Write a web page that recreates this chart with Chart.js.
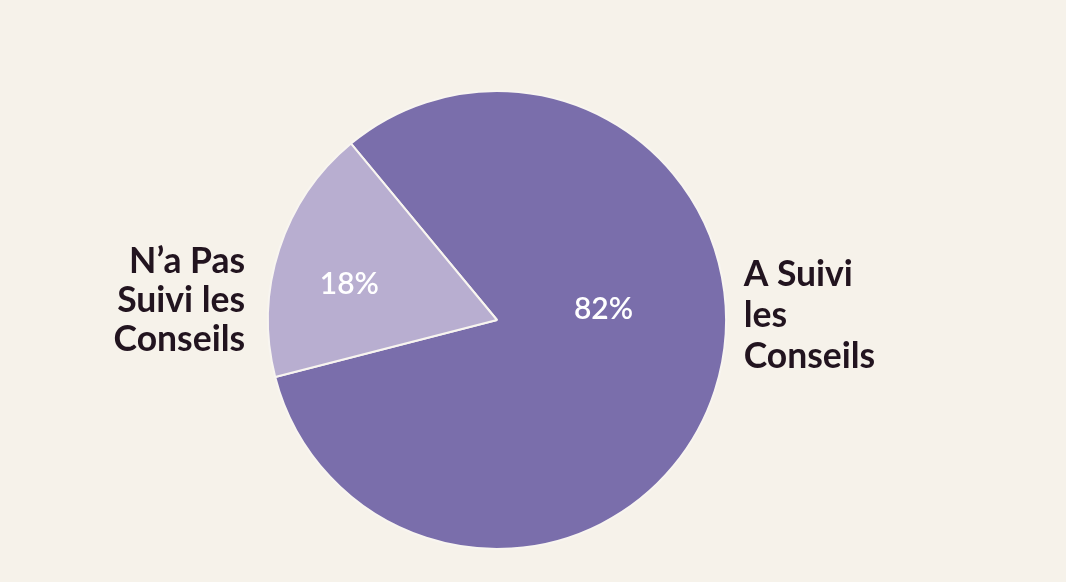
<!DOCTYPE html>
<html>
<head>
<meta charset="utf-8">
<script src="https://cdn.jsdelivr.net/npm/chart.js@4.4.0/dist/chart.umd.min.js"></script>
<style>
  html, body { margin: 0; padding: 0; background: #f6f2ea; }
  #wrap { width: 1066px; height: 582px; position: relative; }
</style>
</head>
<body>
<div id="wrap"><canvas id="conseils"></canvas></div>
<script>
const labels_conseils = ['A Suivi les Conseils', "N\u2019a Pas Suivi les Conseils"];
const label_lines = [['A Suivi', 'les', 'Conseils'], ['N\u2019a Pas', 'Suivi les', 'Conseils']];
const data_conseils = [82, 18];
const colors_conseils = ['#7a6eab', '#b8aed0'];

// percent text inside + category text outside
const labelPlugin = {
    id: 'labelPlugin',
    afterDatasetsDraw(chart) {
        const ctx = chart.ctx;
        const arcs = chart.getDatasetMeta(0).data;
        const total = data_conseils.reduce((a, b) => a + b, 0);
        const inner = [[0.465, -0.045], [-0.645, -0.155]];
        ctx.save();
        arcs.forEach((arc, i) => {
            const R = arc.outerRadius;
            const cx = arc.x, cy = arc.y;
            ctx.fillStyle = '#ffffff';
            ctx.font = '600 30px Lato';
            ctx.textAlign = 'center';
            ctx.textBaseline = 'middle';
            ctx.fillText(Math.round(100 * data_conseils[i] / total) + '%', cx + inner[i][0] * R, cy + inner[i][1] * R);

            ctx.fillStyle = '#22141f';
            ctx.font = 'bold 35.5px Lato';
            const right = i === 0;
            ctx.textAlign = right ? 'left' : 'right';
            const x = right ? cx + 1.077 * R : cx - 1.1 * R;
            const y0 = right ? cy - 0.197 * R : cy - 0.255 * R;
            const step = right ? 41 : 39;
            label_lines[i].forEach((line, j) => {
                ctx.fillText(line, x, y0 + j * step);
            });
        });
        ctx.restore();
    }
};

const ctx_c = document.getElementById('conseils');
const chart_c = new Chart(ctx_c, {
    type: 'pie',
    data: {
        labels: labels_conseils,
        datasets: [{
            data: data_conseils,
            backgroundColor: colors_conseils,
            borderColor: '#f8f5f0',
            borderWidth: 2,
        }],
    },
    options: {
        responsive: true,
        maintainAspectRatio: false,
        animation: false,
        rotation: -39.6,
        layout: { padding: { left: 197, right: 269, top: 90, bottom: 32 } },
        plugins: {
            legend: { display: false },
            tooltip: { enabled: false },
        },
    },
    plugins: [labelPlugin],
});
</script>
</body>
</html>
